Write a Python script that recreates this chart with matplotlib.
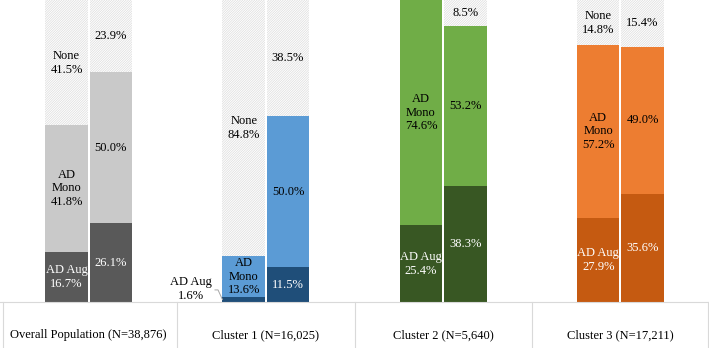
import numpy as np
import matplotlib
matplotlib.use("Agg")
import matplotlib.pyplot as plt

groups = ["Overall Population (N=38,876)", "Cluster 1 (N=16,025)",
          "Cluster 2 (N=5,640)", "Cluster 3 (N=17,211)"]
aug_left = [16.7, 1.6, 25.4, 27.9]
mono_left = [41.8, 13.6, 74.6, 57.2]
none_left = [41.5, 84.8, 0.0, 14.8]
aug_right = [26.1, 11.5, 38.3, 35.6]
mono_right = [50.0, 50.0, 53.2, 49.0]
none_right = [23.9, 38.5, 8.5, 15.4]

dark_colors = ["#595959", "#1f4e79", "#385723", "#c55a11"]
light_colors = ["#c9c9c9", "#5b9bd5", "#70ad47", "#ed7d31"]

plt.rcParams["font.family"] = ["Liberation Serif", "DejaVu Serif"]
plt.rcParams["hatch.color"] = "#dcdcdc"
plt.rcParams["hatch.linewidth"] = 0.5

W, H = 709, 348
fig = plt.figure(figsize=(W / 100, H / 100), dpi=100)
ax = fig.add_axes([0, 46 / H, 1, 302 / H])

x = np.arange(len(groups))
width = 0.24
off = 0.125
fs = 9


def draw_bar(xpos, aug, mono, none, dark, light):
    ax.bar(xpos, aug, width, color=dark, linewidth=0)
    ax.bar(xpos, mono, width, bottom=aug, color=light, linewidth=0)
    ax.bar(xpos, none, width, bottom=np.add(aug, mono), facecolor="white",
           hatch="/" * 14, linewidth=0)


for i in range(len(groups)):
    draw_bar(x[i] - off, aug_left[i], mono_left[i], none_left[i],
             dark_colors[i], light_colors[i])
    draw_bar(x[i] + off, aug_right[i], mono_right[i], none_right[i],
             dark_colors[i], light_colors[i])

    # left bar labels (with category names)
    xl = x[i] - off
    if aug_left[i] > 5:
        ax.text(xl, aug_left[i] / 2, f"AD Aug\n{aug_left[i]:.1f}%", ha="center",
                va="center", color="white", fontsize=fs)
    else:
        # small segment: label outside with a leader line
        edge = xl - width / 2
        ax.text(edge - 0.18, 4.3, f"AD Aug\n{aug_left[i]:.1f}%", ha="center",
                va="center", color="black", fontsize=fs)
        ax.plot([edge - 0.042, edge - 0.025, edge], [4.0, 4.0, 0.8],
                color="#a6a6a6", lw=0.7, clip_on=False)
    ax.text(xl, aug_left[i] + mono_left[i] / 2, f"AD\nMono\n{mono_left[i]:.1f}%",
            ha="center", va="center", color="black", fontsize=fs)
    if none_left[i] > 0:
        ax.text(xl, aug_left[i] + mono_left[i] + none_left[i] / 2,
                f"None\n{none_left[i]:.1f}%", ha="center", va="center",
                color="black", fontsize=fs)

    # right bar labels (values only)
    xr = x[i] + off
    ax.text(xr, aug_right[i] / 2, f"{aug_right[i]:.1f}%", ha="center",
            va="center", color="white", fontsize=fs)
    ax.text(xr, aug_right[i] + mono_right[i] / 2, f"{mono_right[i]:.1f}%",
            ha="center", va="center", color="black", fontsize=fs)
    ax.text(xr, aug_right[i] + mono_right[i] + none_right[i] / 2,
            f"{none_right[i]:.1f}%", ha="center", va="center", color="black",
            fontsize=fs)

    # category label in the table row
    ax.text(x[i], -0.109, groups[i], transform=ax.get_xaxis_transform(),
            ha="center", va="center", fontsize=fs)

ax.set_xlim(-0.5, len(groups) - 0.5)
ax.set_ylim(0, 100)
ax.axis("off")

# table grid below the bars
line_color = "#d9d9d9"
trans = ax.get_xaxis_transform()
ax.plot([-0.5, len(groups) - 0.5], [0, 0], transform=trans, color=line_color,
        lw=0.8, clip_on=False)
for b in [-0.485, 0.5, 1.5, 2.5, len(groups) - 0.505]:
    ax.plot([b, b], [0, -46 / 302], transform=trans, color=line_color, lw=0.8,
            clip_on=False)

fig.savefig("out.png", dpi=100)
plt.close(fig)
